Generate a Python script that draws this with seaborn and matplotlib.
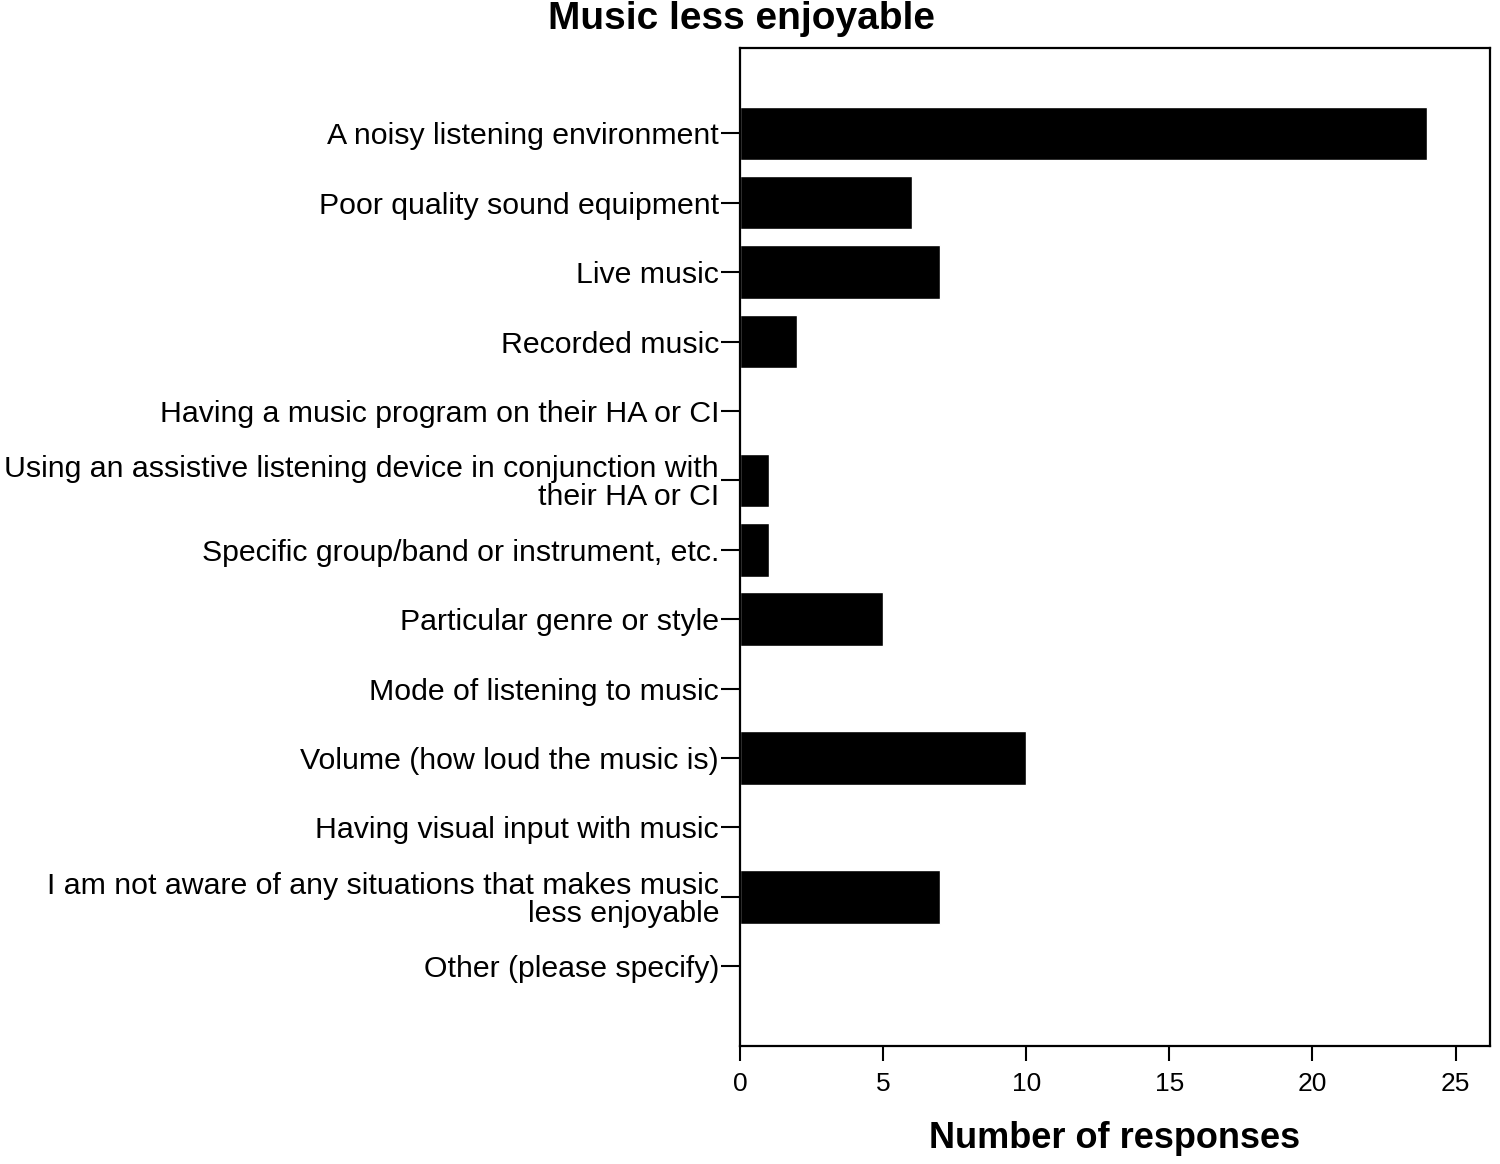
import matplotlib
matplotlib.use("Agg")
import matplotlib.pyplot as plt
import seaborn as sns
import pandas as pd

sns.set_theme(style="white")
plt.rcParams["font.family"] = ["Liberation Sans", "DejaVu Sans"]
plt.rcParams["text.color"] = "black"
plt.rcParams["axes.labelcolor"] = "black"
plt.rcParams["xtick.color"] = "black"
plt.rcParams["ytick.color"] = "black"

categories = [
    "A noisy listening environment",
    "Poor quality sound equipment",
    "Live music",
    "Recorded music",
    "Having a music program on their HA or CI",
    "Using an assistive listening device in conjunction with\ntheir HA or CI",
    "Specific group/band or instrument, etc.",
    "Particular genre or style",
    "Mode of listening to music",
    "Volume (how loud the music is)",
    "Having visual input with music",
    "I am not aware of any situations that makes music\nless enjoyable",
    "Other (please specify)",
]
responses = [24, 6, 7, 2, 0, 1, 1, 5, 0, 10, 0, 7, 0]
xticks = [0, 5, 10, 15, 20, 25]

df = pd.DataFrame({"category": categories, "responses": responses})

fig = plt.figure(figsize=(15, 11.64), dpi=100)
ax = fig.add_axes([0.4933, 0.1013, 0.5, 0.8575])

sns.barplot(data=df, x="responses", y="category", orient="h",
            color="black", width=0.77, ax=ax, saturation=1)

ax.set_xlim(0, 26.2)
ax.set_ylim(13.15, -1.23)
ax.set_xticks(xticks)
ax.set_xticklabels([str(t) for t in xticks], fontsize=19)
ax.tick_params(axis="y", labelsize=21.8, length=14, width=1.5, pad=1,
               left=True, direction="out")
ax.tick_params(axis="x", length=11, width=1.5, pad=8,
               bottom=True, direction="out")
for lab in ax.get_yticklabels():
    lab.set_horizontalalignment("right")
    lab.set_multialignment("right")
    lab.set_linespacing(1.0)

for s in ax.spines.values():
    s.set_visible(True)
    s.set_color("black")
    s.set_linewidth(1.6)

ax.set_ylabel("")
ax.set_xlabel("Number of responses", fontsize=26, fontweight="bold", labelpad=18)
fig.text(0.494, 0.984, "Music less enjoyable", fontsize=28, fontweight="bold",
         ha="center", va="center")

fig.savefig("out.png", dpi=100, facecolor="white")
